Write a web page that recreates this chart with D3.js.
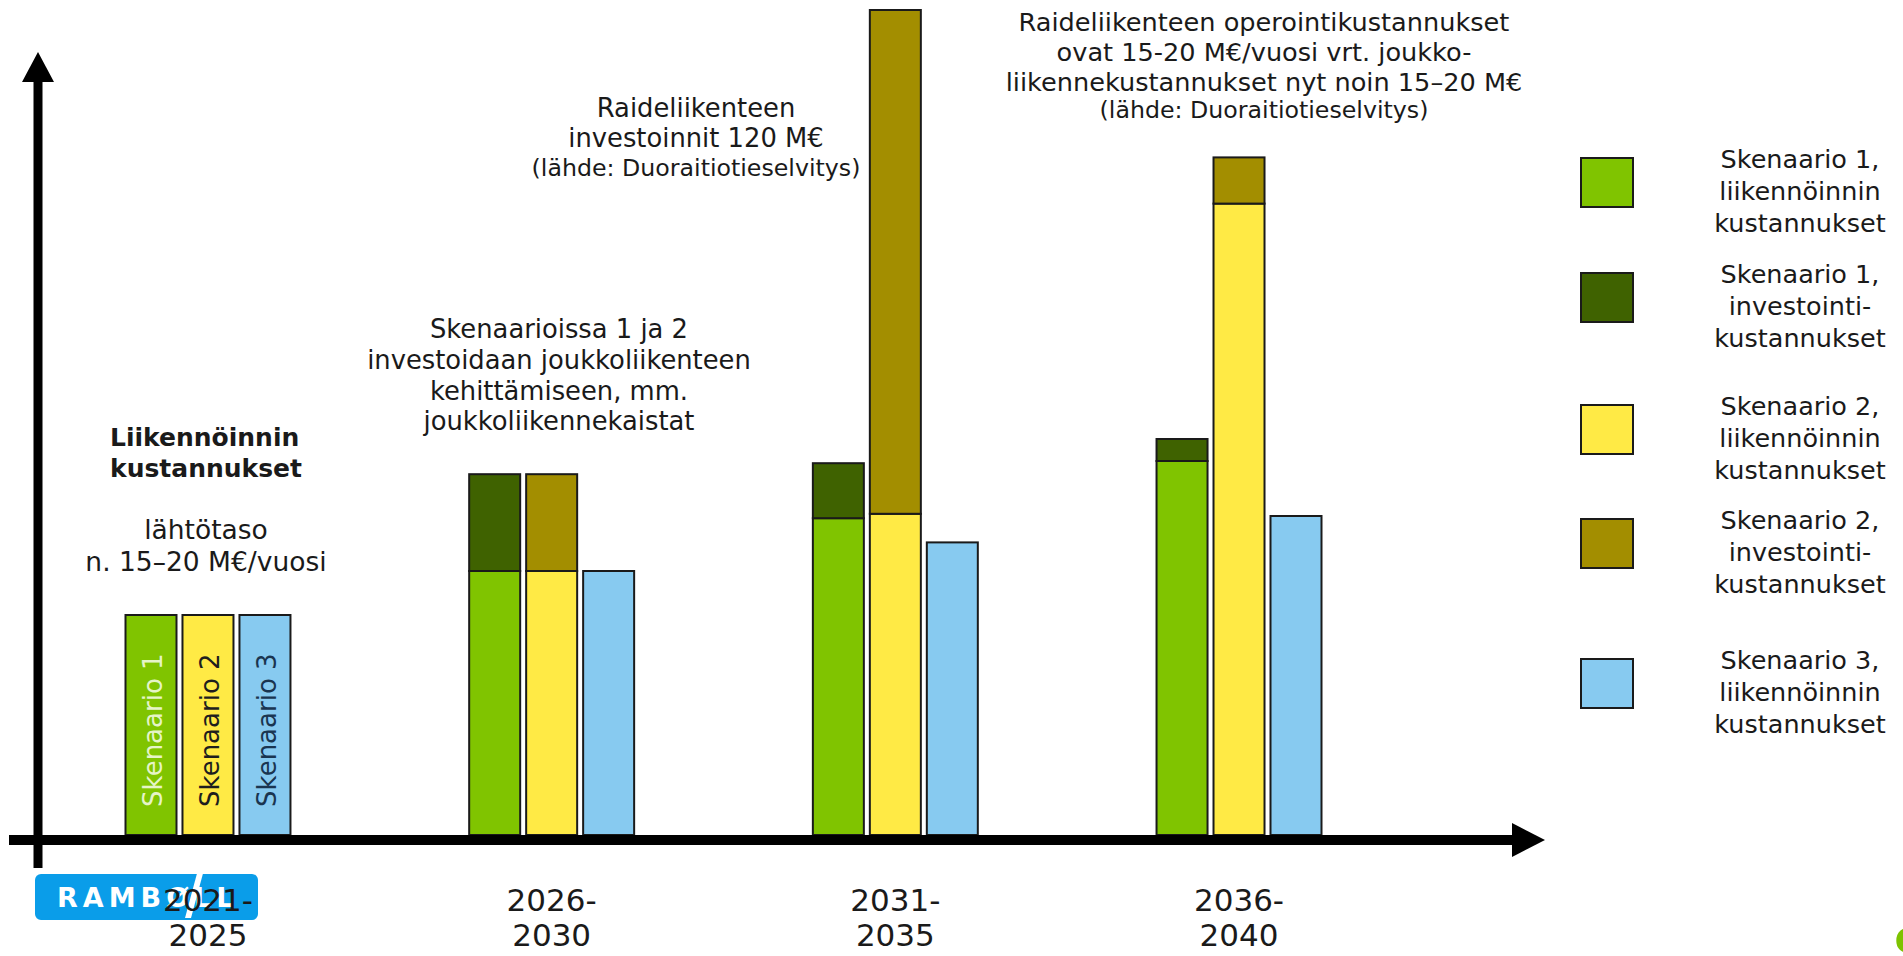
<!DOCTYPE html>
<html lang="fi">
<head>
<meta charset="utf-8">
<title>Liikennöinnin ja investointien kustannukset skenaarioittain</title>
<script src="https://cdn.jsdelivr.net/npm/d3@7"></script>
<style>
  html, body { margin: 0; padding: 0; background: #ffffff; }
  svg { display: block; }
  text { font-family: "DejaVu Sans", Verdana, sans-serif; fill: #1a1a1a; }
</style>
</head>
<body>
<svg id="chart" width="1903" height="956"></svg>
<script>
// Periods on the horizontal axis
const periods = ["2021-2025", "2026-2030", "2031-2035", "2036-2040"];
// Scenarios within each period
const scenarios = ["Skenaario 1", "Skenaario 2", "Skenaario 3"];

// Cost index per period (starting level 2021–2025 = 100)
const s1Operating  = [100, 120, 144, 170];
const s1Investment = [0, 44, 25, 10];
const s2Operating  = [100, 120, 146, 287];
const s2Investment = [0, 44, 229, 21];
const s3Operating  = [100, 120, 133, 145];

// Legend entries
const seriesKeys = ["s1op", "s1inv", "s2op", "s2inv", "s3op"];
const legendLabels = [
  ["Skenaario 1,", "liikennöinnin", "kustannukset"],
  ["Skenaario 1,", "investointi-", "kustannukset"],
  ["Skenaario 2,", "liikennöinnin", "kustannukset"],
  ["Skenaario 2,", "investointi-", "kustannukset"],
  ["Skenaario 3,", "liikennöinnin", "kustannukset"]
];

const colors = {
  s1op: "#80c400", s1inv: "#3f6200",
  s2op: "#ffea45", s2inv: "#a38e00",
  s3op: "#87caf0"
};
const insideLabelColors = ["#e6f4c8", "#1e1e1e", "#1a3550"];

const svg = d3.select("#chart");
const W = 1903, H = 956;
svg.append("rect").attr("width", W).attr("height", H).attr("fill", "#ffffff");

const baseY = 835;
const y = d3.scaleLinear().domain([0, 100]).range([baseY, baseY - 220]);
const x = d3.scaleBand().domain(periods).range([125.5, 1321.5]).paddingInner(0.52).paddingOuter(0);
const xs = d3.scaleBand().domain(scenarios).range([0, x.bandwidth()]).paddingInner(0.105);

// Stacked segments: operating cost at the bottom, investment on top
const segments = periods.flatMap((p, i) => [
  { p, sc: scenarios[0], key: "s1op",  y0: 0, y1: s1Operating[i] },
  { p, sc: scenarios[0], key: "s1inv", y0: s1Operating[i], y1: s1Operating[i] + s1Investment[i] },
  { p, sc: scenarios[1], key: "s2op",  y0: 0, y1: s2Operating[i] },
  { p, sc: scenarios[1], key: "s2inv", y0: s2Operating[i], y1: s2Operating[i] + s2Investment[i] },
  { p, sc: scenarios[2], key: "s3op",  y0: 0, y1: s3Operating[i] }
]).filter(d => d.y1 > d.y0);

svg.append("g").attr("class", "bars")
  .selectAll("rect")
  .data(segments)
  .join("rect")
  .attr("x", d => x(d.p) + xs(d.sc))
  .attr("y", d => y(d.y1))
  .attr("width", xs.bandwidth())
  .attr("height", d => y(d.y0) - y(d.y1))
  .attr("fill", d => colors[d.key])
  .attr("stroke", "#1a1a1a")
  .attr("stroke-width", 2);

// Scenario names written up the bars of the first period
svg.append("g").attr("class", "inside-labels")
  .selectAll("text")
  .data(scenarios)
  .join("text")
  .attr("transform", d => `translate(${x(periods[0]) + xs(d) + xs.bandwidth() / 2 + 2},${baseY - 28}) rotate(-90)`)
  .attr("dy", "0.36em")
  .attr("font-size", 26)
  .style("fill", (d, i) => insideLabelColors[i])
  .text(d => d);

// Axes drawn as arrows
const axes = svg.append("g").attr("class", "axes");
axes.append("line").attr("x1", 38).attr("x2", 38).attr("y1", 78).attr("y2", 868)
  .attr("stroke", "#000").attr("stroke-width", 9);
axes.append("path").attr("d", "M38,52 L22,82 L54,82 Z").attr("fill", "#000");
axes.append("line").attr("x1", 9).attr("x2", 1515).attr("y1", 840).attr("y2", 840)
  .attr("stroke", "#000").attr("stroke-width", 10);
axes.append("path").attr("d", "M1545,840 L1512,823 L1512,857 Z").attr("fill", "#000");

// Company badge in the lower left corner
const badge = svg.append("g").attr("class", "badge");
badge.append("rect").attr("x", 35).attr("y", 874).attr("width", 223).attr("height", 46)
  .attr("rx", 6).attr("fill", "#0a9de9");
badge.append("text").attr("x", 57).attr("y", 907)
  .attr("font-size", 27).attr("font-weight", "bold").attr("letter-spacing", 5)
  .style("fill", "#ffffff").text("RAMBØLL");
badge.append("path").attr("d", "M199,866 L205,866 L191,918 L185,918 Z").attr("fill", "#ffffff");

// Period labels under the axis
const periodLabels = svg.append("g").attr("class", "period-labels")
  .selectAll("text")
  .data(periods)
  .join("text")
  .attr("text-anchor", "middle")
  .attr("font-size", 31);
periodLabels.each(function (d) {
  const [a, b] = d.split("-");
  const t = d3.select(this);
  const cx = x(d) + x.bandwidth() / 2;
  t.append("tspan").attr("x", cx).attr("y", 911).text(a + "-");
  t.append("tspan").attr("x", cx).attr("y", 946).text(b);
});

// Text notes
function note(lines, cx, baselines, sizes, weight, anchor) {
  const t = svg.append("text").attr("text-anchor", anchor || "middle")
    .attr("font-weight", weight || "normal");
  lines.forEach((s, i) => {
    t.append("tspan").attr("x", cx).attr("y", baselines[i])
      .attr("font-size", sizes[i]).text(s);
  });
}

note(["Liikennöinnin", "kustannukset"], 110, [446, 477], [25, 25], "bold", "start");
note(["lähtötaso", "n. 15–20 M€/vuosi"], 206, [539, 571], [26.5, 26.5]);
note(["Skenaarioissa 1 ja 2", "investoidaan joukkoliikenteen", "kehittämiseen, mm.", "joukkoliikennekaistat"],
  559, [338, 369, 400, 430], [25.8, 25.8, 25.8, 25.8]);
note(["Raideliikenteen", "investoinnit 120 M€", "(lähde: Duoraitiotieselvitys)"],
  696, [117, 147, 176], [25.8, 25.8, 23.7]);
note(["Raideliikenteen operointikustannukset", "ovat 15-20 M€/vuosi vrt. joukko-",
      "liikennekustannukset nyt noin 15–20 M€", "(lähde: Duoraitiotieselvitys)"],
  1264, [31, 61, 91, 118], [25.6, 25.6, 25.6, 23.7]);

// Legend
const legendTops = [158, 273, 405, 519, 659];
const legend = svg.append("g").attr("class", "legend")
  .selectAll("g")
  .data(seriesKeys)
  .join("g");
legend.append("rect")
  .attr("x", 1581).attr("y", (d, i) => legendTops[i])
  .attr("width", 52).attr("height", 49)
  .attr("fill", d => colors[d]).attr("stroke", "#1a1a1a").attr("stroke-width", 2);
legend.each(function (d, i) {
  const cy = legendTops[i] + 24.5;
  const t = d3.select(this).append("text").attr("text-anchor", "middle").attr("font-size", 25.5);
  legendLabels[i].forEach((s, j) => {
    t.append("tspan").attr("x", 1800).attr("y", cy + 17 + (j - 1) * 32).text(s);
  });
});

// Partial green mark at the lower right edge
svg.append("text").attr("x", 1892).attr("y", 972).attr("font-size", 60)
  .attr("font-weight", "bold").style("fill", "#7dc300").text("S");
</script>
</body>
</html>
